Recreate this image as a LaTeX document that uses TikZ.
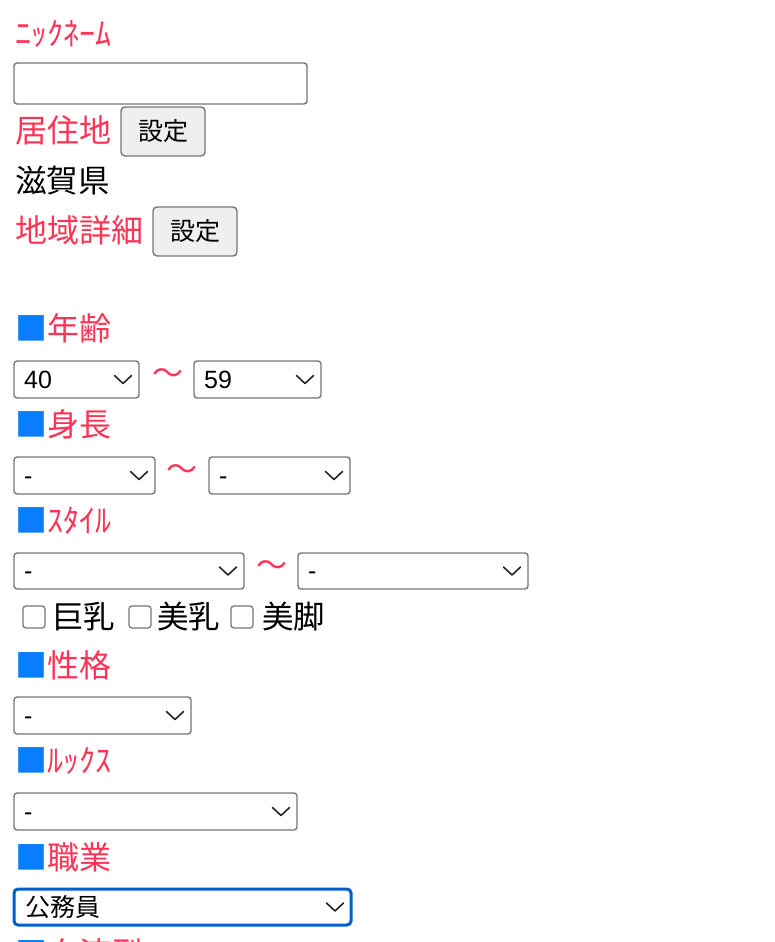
\documentclass[tikz,border=0pt]{standalone}
\usepackage{fontspec}
\setmainfont{Noto Sans CJK JP}
\newfontfamily\arial{Liberation Sans}
\definecolor{lblred}{HTML}{FF3355}
\definecolor{sqblue}{HTML}{0A7CFF}
\definecolor{bordergray}{HTML}{767676}
\definecolor{btnfill}{HTML}{EFEFEF}
\definecolor{focusblue}{HTML}{005FCC}
\tikzset{
  lbl/.style={anchor=west, inner sep=0pt, text=lblred, font=\fontsize{32}{36}\selectfont},
  plaintxt/.style={anchor=west, inner sep=0pt, font=\fontsize{31.5}{36}\selectfont},
  seltxt/.style={anchor=base west, inner sep=0pt, font=\fontsize{25}{30}\selectfont\arial},
  btntxt/.style={inner sep=0pt, font=\fontsize{25}{30}\selectfont},
  wave/.style={inner sep=0pt, text=lblred, font=\fontsize{31}{36}\selectfont},
  field/.style={draw=bordergray, line width=1.4pt, rounded corners=3pt, fill=white},
  btnbox/.style={draw=bordergray, line width=1.4pt, rounded corners=4pt, fill=btnfill},
  chkbox/.style={draw=bordergray, line width=1.3pt, rounded corners=3pt},
  chev/.style={draw=black!85, line width=1.6pt, line cap=round, line join=round},
}
\newcommand{\sq}{{\color{sqblue}■}}
\begin{document}
\begin{tikzpicture}[x=1pt, y=-1pt]
	\useasboundingbox (0,0) rectangle (774,942);
	\clip (0,0) rectangle (774,942);
	
	% nickname and area
	\node[lbl] (nick) at (15,33.5) {ﾆｯｸﾈｰﾑ};
	\draw[field] (14,63) rectangle (307,104);
	\node[lbl] (home) at (15,130) {居住地};
	\draw[btnbox] (121,107) rectangle (205,156);
	\node[btntxt] (set1) at (163,131.5) {設定};
	\node[plaintxt] (pref) at (15,181) {滋賀県};
	\node[lbl] (area) at (15,230) {地域詳細};
	\draw[btnbox] (153,207) rectangle (237,256);
	\node[btntxt] (set2) at (195,231.5) {設定};
	
	% section headings
	\node[lbl] (age) at (15,328.5) {\sq 年齢};
	\node[lbl] (height) at (15,424.5) {\sq 身長};
	\node[lbl] (style) at (15,520.5) {\sq ｽﾀｲﾙ};
	\node[lbl] (chara) at (15,665) {\sq 性格};
	\node[lbl] (looks) at (15,761) {\sq ﾙｯｸｽ};
	\node[lbl] (job) at (15,857) {\sq 職業};
	\node[lbl] (blood) at (15,953) {\sq 血液型};
	
	% select boxes
	\foreach \l/\t/\r/\b/\v [count=\i] in {14/361/139/398/40, 194/361/321/398/59,
		14/457/155/494/-, 209/457/350/494/-, 14/553/244/589/-, 298/553/528/589/-,
		14/697/191/734/-, 14/793/297/830/-}
	{
		\draw[field] (\l,\t) rectangle (\r,\b);
		\node[seltxt] (sel\i) at (\l+10,{(\t+\b)/2+8.5}) {\v};
		\draw[chev] (\r-24.5,{(\t+\b)/2-4}) -- (\r-16,{(\t+\b)/2+4}) -- (\r-7.5,{(\t+\b)/2-4});
	}
	\draw[draw=focusblue, line width=3pt, rounded corners=4pt, fill=white] (14,889) rectangle (351,925);
	\node[btntxt, anchor=west] (sel9) at (25,907) {公務員};
	\draw[chev] (326.5,903) -- (335,911) -- (343.5,903);
	
	\node[wave] (to1) at (167.5,377) {〜};
	\node[wave] (to2) at (181.5,473) {〜};
	\node[wave] (to3) at (272,569) {〜};
	
	% check boxes
	\draw[chkbox] (23,606) rectangle (45,628);
	\node[plaintxt] (big) at (52,617) {巨乳};
	\draw[chkbox] (129,606) rectangle (151,628);
	\node[plaintxt] (nice) at (157,617) {美乳};
	\draw[chkbox] (231,606) rectangle (253,628);
	\node[plaintxt] (legs) at (262,617) {美脚};
\end{tikzpicture}
\end{document}
